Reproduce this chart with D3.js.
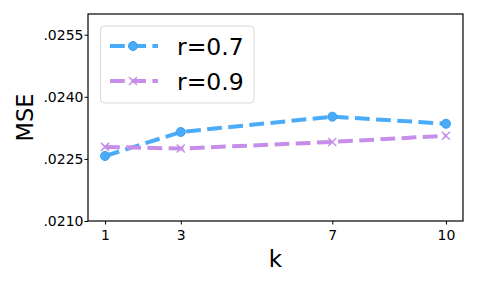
<!DOCTYPE html>
<html><head><meta charset="utf-8">
<script src="https://cdn.jsdelivr.net/npm/d3@7"></script>
<style>body{margin:0;background:#fff}svg{display:block;font-family:"DejaVu Sans",sans-serif}</style>
</head><body><svg id="c" width="478" height="287"></svg>
<script>
const ks = [1, 3, 7, 10];
const r07 = [0.02257, 0.02315, 0.02352, 0.02335];
const r09 = [0.02279, 0.02275, 0.02291, 0.02306];
const seriesNames = ["r=0.7", "r=0.9"];
const yTicks = [0.0210, 0.0225, 0.0240, 0.0255];
const yTickLabels = [".0210", ".0225", ".0240", ".0255"];

const svg = d3.select("#c");
const L = 88, R = 463, T = 14, B = 221;
const x = d3.scaleLinear().domain([0.55, 10.45]).range([L, R]);
const y = d3.scaleLinear().domain([0.021, 0.026]).range([B, T]);

const xAx = svg.append("g").attr("transform", `translate(0,${B})`)
  .call(d3.axisBottom(x).tickValues(ks).tickFormat(d3.format("d")).tickSize(3.5).tickPadding(5.5));
const yAx = svg.append("g").attr("transform", `translate(${L},0)`)
  .call(d3.axisLeft(y).tickValues(yTicks).tickFormat((d,i)=>yTickLabels[i]).tickSize(3.5).tickPadding(1));
[xAx, yAx].forEach(g => {
  g.select(".domain").remove();
  g.selectAll("text").attr("font-size", 14).attr("fill", "#000").attr("font-family", "DejaVu Sans");
  g.selectAll("line").attr("stroke", "#000");
});
svg.append("rect").attr("x", L).attr("y", T).attr("width", R - L).attr("height", B - T)
  .attr("fill", "none").attr("stroke", "#000").attr("stroke-width", 1.2);

svg.append("text").attr("x", (L + R) / 2).attr("y", 267).attr("text-anchor", "middle")
  .attr("font-size", 23).text("k");
svg.append("text").attr("transform", `translate(33,${(T + B) / 2}) rotate(-90)`)
  .attr("text-anchor", "middle").attr("font-size", 22.5).text("MSE");

const colors = ["#4aacf8", "#c68de9"];
const data = [r07, r09];
const line = d3.line().x((d, i) => x(ks[i])).y(d => y(d));

data.forEach((vals, si) => {
  svg.append("path").datum(vals).attr("d", line).attr("fill", "none")
    .attr("stroke", colors[si]).attr("stroke-width", 4).attr("stroke-dasharray", "14.8,6.4");
});
function marker(g, si, cx, cy) {
  if (si === 0) {
    g.append("circle").attr("cx", cx).attr("cy", cy).attr("r", 4.5)
      .attr("fill", colors[0]).attr("stroke", "#3a9df0").attr("stroke-width", 1);
  } else {
    const s = 4;
    g.append("path").attr("d", `M${cx-s},${cy-s}L${cx+s},${cy+s}M${cx-s},${cy+s}L${cx+s},${cy-s}`)
      .attr("stroke", colors[1]).attr("stroke-width", 1.5).attr("fill", "none");
  }
}
data.forEach((vals, si) => {
  vals.forEach((v, i) => marker(svg, si, x(ks[i]), y(v)));
});

// legend
const lg = svg.append("g");
lg.append("rect").attr("x", 100.5).attr("y", 26).attr("width", 153.5).attr("height", 77)
  .attr("rx", 4).attr("fill", "#fff").attr("fill-opacity", 0.8).attr("stroke", "#d9d9d9");
seriesNames.forEach((n, si) => {
  const cy = 46 + si * 35;
  lg.append("line").attr("x1", 110).attr("x2", 158).attr("y1", cy).attr("y2", cy)
    .attr("stroke", colors[si]).attr("stroke-width", 4).attr("stroke-dasharray", "14.8,6.4");
  marker(lg, si, 133, cy);
  lg.append("text").attr("x", 177).attr("y", cy + 8.5).attr("font-size", 23.5).text(n);
});
</script></body></html>
